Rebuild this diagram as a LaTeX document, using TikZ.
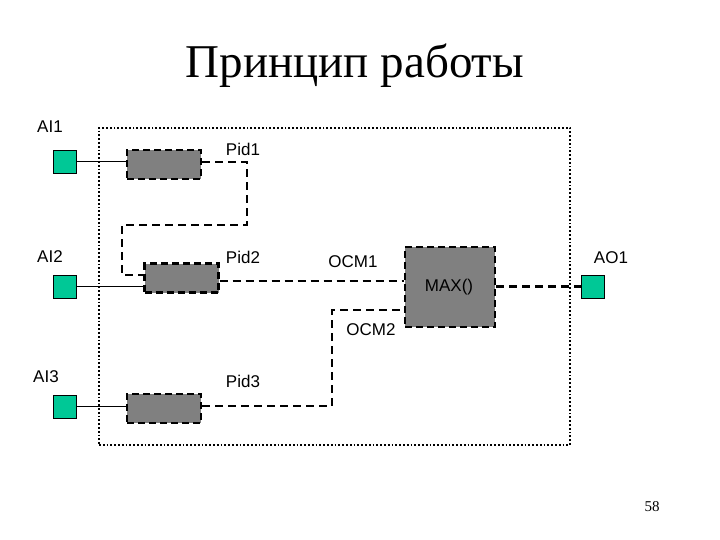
\documentclass[tikz,border=0pt]{standalone}
\usepackage{fontspec}
\setmainfont{Liberation Serif}
\newfontfamily\arialf{Liberation Sans}
\definecolor{ingreen}{RGB}{0,200,150}
\definecolor{boxgray}{RGB}{128,128,128}
\begin{document}
\begin{tikzpicture}[x=1pt,y=-1pt,
  lbl/.style={font=\arialf\fontsize{17}{19}\selectfont, inner sep=0pt},
  io/.style={draw=black, fill=ingreen, line width=0.9pt, minimum width=23pt, minimum height=23pt, inner sep=0pt},
  pidbox/.style={draw=black, fill=boxgray, line width=2.2pt, dash pattern=on 7pt off 4pt, minimum width=74pt, minimum height=29pt, inner sep=0pt},
  dl/.style={line width=2.2pt, dash pattern=on 8pt off 5pt},
  sl/.style={line width=0.8pt}]
\useasboundingbox (0,0) rectangle (720,540);
\node[font=\fontsize{47}{50}\selectfont] (title) at (355,66) {Принцип работы};
\node[draw=black, line width=1.8pt, dotted, minimum width=471pt, minimum height=317pt, inner sep=0pt] (frame) at (334.5,286.5) {};
% inputs
\node[io] (ai1) at (64.5,161.5) {};
\node[io] (ai2) at (64.5,286.5) {};
\node[io] (ai3) at (64.5,406.5) {};
\node[io] (ao1) at (592.5,286.5) {};
\node[lbl] (ai1l) at (50,127) {AI1};
\node[lbl] (ai2l) at (50,257) {AI2};
\node[lbl] (ai3l) at (46,377) {AI3};
\node[lbl] (ao1l) at (611,258) {AO1};
% pid boxes
\node[pidbox] (pid1) at (164,164.5) {};
\node[pidbox] (pid2) at (181.5,278) {};
\node[pidbox] (pid3) at (164,408.5) {};
\node[lbl] (pid1l) at (243,149) {Pid1};
\node[lbl] (pid2l) at (243,257) {Pid2};
\node[lbl] (pid3l) at (243,381) {Pid3};
% max
\node[draw=black, fill=boxgray, line width=2.2pt, dash pattern=on 7pt off 4pt, minimum width=90pt, minimum height=80pt, inner sep=0pt] (max) at (450,287) {};
\node[lbl] (maxl) at (449,287) {MAX()};
\node[lbl] (ocm1) at (353,262) {OCM1};
\node[lbl] (ocm2) at (371,330) {OCM2};
\node[lbl, font=\fontsize{15}{17}\selectfont] (page) at (652,507) {58};
% connectors
\draw[sl] (ai1.east) -- (ai1.east -| pid1.west);
\draw[sl] (ai2.east) -- (ai2.east -| pid2.west);
\draw[sl] (ai3.east) -- (ai3.east -| pid3.west);
\coordinate (c1) at (247,162);
\coordinate (c2) at (247,225);
\coordinate (c3) at (122,225);
\coordinate (c4) at (122,275);
\draw[dl] (pid1.east |- c1) -- (c1) -- (c2) -- (c3) -- (c4) -- (c4 -| pid2.west);
\draw[dl] (pid2.east |- 0,281) -- (max.west |- 0,281);
\coordinate (d1) at (332,406);
\coordinate (d2) at (332,310);
\draw[dl] (pid3.east |- d1) -- (d1) -- (d2) -- (d2 -| max.west);
\draw[dl] (max.east |- ao1.west) -- (ao1.west);
\end{tikzpicture}
\end{document}
